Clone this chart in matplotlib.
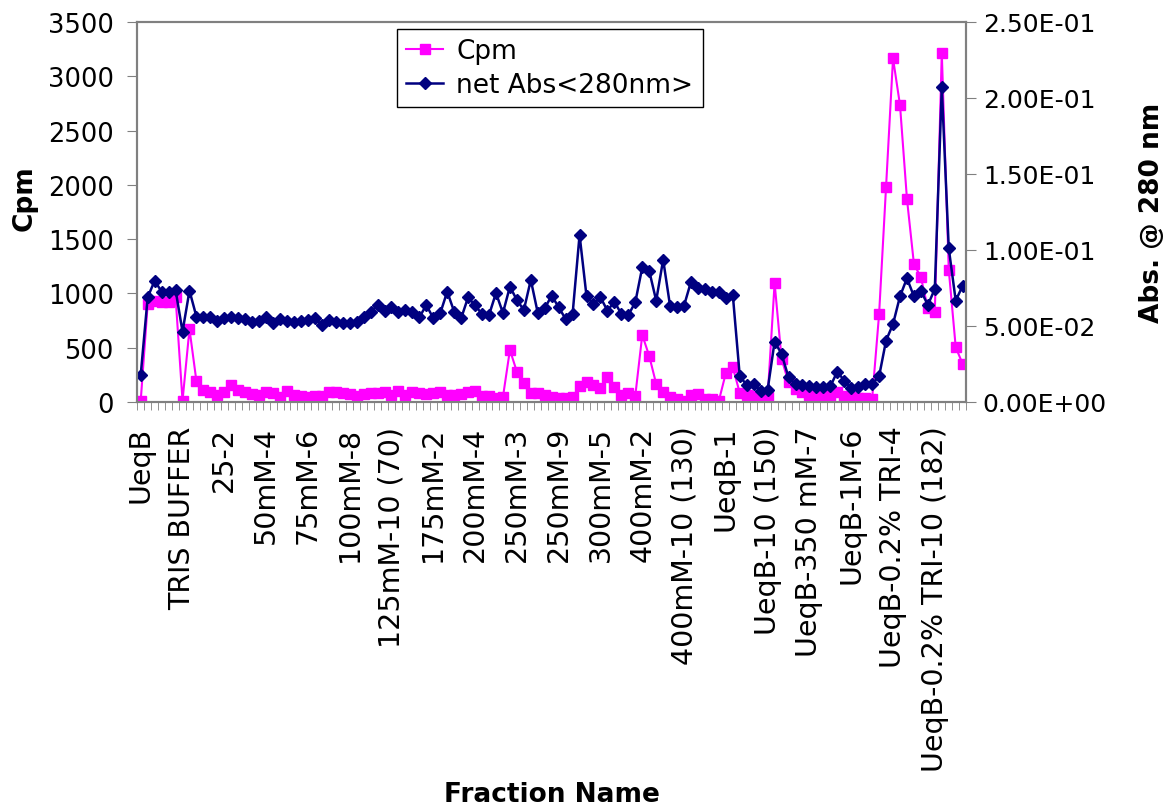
import numpy as np
import matplotlib.pyplot as plt
from matplotlib.ticker import FuncFormatter

# Cpm per fraction (left axis)
cpm = [12, 903, 933, 918, 918, 970, 12, 672, 190, 113,
       95, 64, 89, 160, 113, 95, 77, 64, 95, 82,
       49, 104, 64, 52, 43, 58, 52, 95, 89, 83,
       74, 58, 74, 80, 80, 89, 64, 105, 64, 95,
       83, 74, 83, 89, 64, 64, 74, 95, 100, 58,
       52, 40, 46, 479, 279, 175, 83, 83, 64, 46,
       40, 37, 46, 144, 187, 160, 126, 227, 135, 68,
       83, 58, 617, 424, 166, 89, 43, 28, 12, 64,
       74, 28, 28, 12, 267, 319, 83, 64, 58, 46,
       46, 1096, 396, 181, 120, 89, 64, 58, 64, 52,
       89, 52, 43, 34, 34, 28, 810, 1983, 3165, 2735,
       1870, 1271, 1148, 863, 832, 3214, 1219, 504, 350]

# net absorbance at 280 nm (right axis)
abs280 = [0.0178, 0.0689, 0.0798, 0.0726, 0.0726, 0.0737, 0.0463, 0.0732, 0.0561, 0.0561,
          0.0561, 0.0535, 0.0553, 0.0561, 0.0553, 0.0546, 0.0524, 0.0535, 0.0557, 0.0518,
          0.0546, 0.0535, 0.0524, 0.0535, 0.0540, 0.0551, 0.0507, 0.0540, 0.0529, 0.0520,
          0.0520, 0.0524, 0.0561, 0.0590, 0.0638, 0.0601, 0.0623, 0.0594, 0.0605, 0.0594,
          0.0557, 0.0638, 0.0551, 0.0584, 0.0726, 0.0594, 0.0551, 0.0689, 0.0635, 0.0579,
          0.0572, 0.0717, 0.0586, 0.0759, 0.0671, 0.0605, 0.0803, 0.0586, 0.0617, 0.0700,
          0.0623, 0.0546, 0.0579, 0.1099, 0.0695, 0.0645, 0.0689, 0.0601, 0.0660, 0.0579,
          0.0572, 0.0656, 0.0886, 0.0862, 0.0667, 0.0936, 0.0630, 0.0623, 0.0634, 0.0792,
          0.0748, 0.0744, 0.0722, 0.0722, 0.0682, 0.0704, 0.0169, 0.0112, 0.0118, 0.0074,
          0.0081, 0.0397, 0.0316, 0.0162, 0.0118, 0.0112, 0.0103, 0.0100, 0.0097, 0.0103,
          0.0200, 0.0140, 0.0090, 0.0097, 0.0118, 0.0118, 0.0169, 0.0404, 0.0513, 0.0695,
          0.0814, 0.0695, 0.0732, 0.0638, 0.0744, 0.2071, 0.1011, 0.0667, 0.0765]

# every 6th fraction is labelled
tick_labels = ['UeqB', 'TRIS BUFFER', '25-2', '50mM-4', '75mM-6', '100mM-8',
               '125mM-10 (70)', '175mM-2', '200mM-4', '250mM-3', '250mM-9',
               '300mM-5', '400mM-2', '400mM-10 (130)', 'UeqB-1', 'UeqB-10 (150)',
               'UeqB-350 mM-7', 'UeqB-1M-6', 'UeqB-0.2% TRI-4',
               'UeqB-0.2% TRI-10 (182)']
label_step = 6

plt.rcParams['font.family'] = 'DejaVu Sans'

n = len(cpm)
x = np.arange(n)

fig = plt.figure(figsize=(11.68, 8.12), dpi=100)
ax = fig.add_axes([0.1175, 0.5037, 0.7097, 0.468])
ax2 = ax.twinx()

l1, = ax.plot(x, cpm, color='#FF00FF', lw=1.5, marker='s', ms=7,
              mec='#FF00FF', mfc='#FF00FF', label='Cpm')
l2, = ax2.plot(x, abs280, color='#000080', lw=1.8, marker='D', ms=6,
               mec='#000080', mfc='#000080', label='net Abs<280nm>')

ax.set_xlim(-0.5, n - 0.5)
ax.set_ylim(0, 3500)
ax.set_yticks(np.arange(0, 3501, 500))
ax2.set_ylim(0, 0.25)
ax2.set_yticks(np.arange(0, 0.2501, 0.05))
ax2.yaxis.set_major_formatter(FuncFormatter(lambda v, p: '%.2E' % v))

ax.set_xticks(x[::label_step])
ax.set_xticklabels(tick_labels, rotation=90, fontsize=20.5)
ax.set_xticks(np.arange(-0.5, n, 1), minor=True)
ax.tick_params(axis='x', which='major', length=0, pad=17)
ax.tick_params(axis='x', which='minor', length=6, color='#808080')
ax.tick_params(axis='y', labelsize=18.5, length=7, pad=10, color='#808080')
ax2.tick_params(axis='y', labelsize=18, length=7, pad=5, color='#808080')

for a in (ax, ax2):
    for s in a.spines.values():
        s.set_color('#808080')
        s.set_linewidth(1.5)

ax.set_ylabel('Cpm', fontsize=19, fontweight='bold')
ax.yaxis.set_label_coords(-0.12, 0.54)
ax2.set_ylabel('Abs. @ 280 nm', fontsize=19, fontweight='bold')
ax2.yaxis.set_label_coords(1.2085, 0.5)
fig.text(0.4726, 0.005, 'Fraction Name', fontsize=19, fontweight='bold',
         ha='center', va='bottom')

leg = ax2.legend(handles=[l1, l2], loc='upper left', bbox_to_anchor=(0.3134, 0.9816),
                 fontsize=19, fancybox=False, framealpha=1, edgecolor='black',
                 borderpad=0.35, handlelength=1.4, handletextpad=0.5,
                 labelspacing=0.3, borderaxespad=0)
leg.get_frame().set_linewidth(1.0)

fig.savefig('out.png', dpi=100)
